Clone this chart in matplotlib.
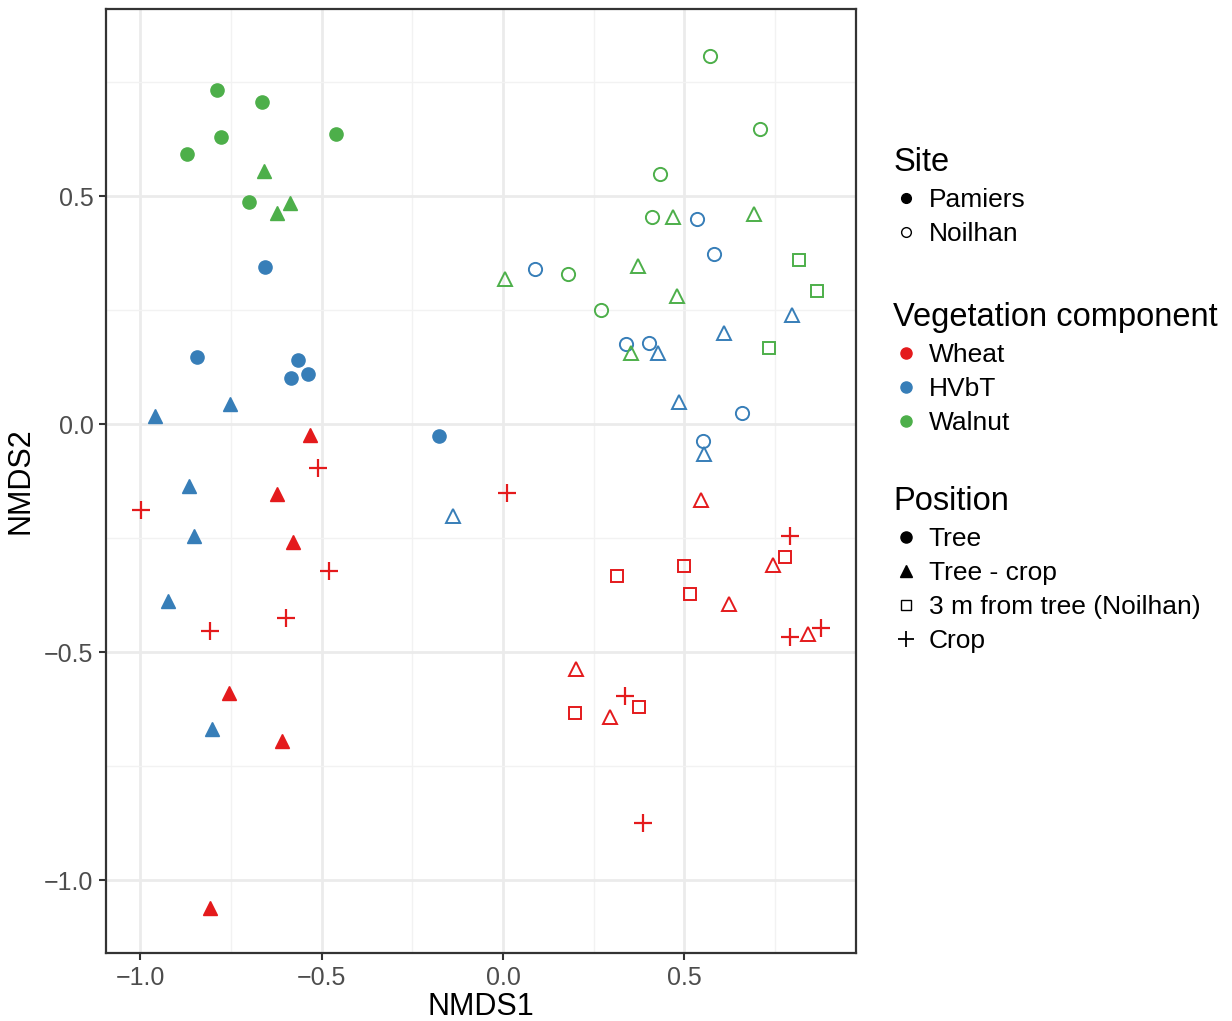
import matplotlib
matplotlib.use("Agg")
from matplotlib import pyplot as plt
from matplotlib.lines import Line2D
import numpy as np

plt.rcParams['font.family'] = ['Liberation Sans', 'DejaVu Sans']

# NMDS scores
nmds1 = [-0.787, -0.663, -0.776, -0.460, -0.872, -0.700,
         -0.658, -0.587, -0.623,
         -0.656, -0.844, -0.566, -0.536, -0.585, -0.176,
         -0.753, -0.960, -0.865, -0.851, -0.922, -0.801,
         -0.531, -0.622, -0.578, -0.756, -0.608, -0.806,
         -0.510, -0.998, -0.480, -0.597, -0.807,
         0.571, 0.709, 0.434, 0.411, 0.178, 0.271,
         0.469, 0.691, 0.373, 0.005, 0.480, 0.353,
         0.816, 0.866, 0.733,
         0.536, 0.581, 0.089, 0.338, 0.403, 0.659, 0.550,
         0.796, 0.610, 0.426, 0.484, 0.554, -0.138,
         0.547, 0.744, 0.622, 0.840, 0.200, 0.296,
         0.778, 0.499, 0.313, 0.516, 0.376, 0.199,
         0.010, 0.791, 0.791, 0.877, 0.335, 0.386]
nmds2 = [0.732, 0.706, 0.629, 0.636, 0.593, 0.487,
         0.554, 0.485, 0.463,
         0.344, 0.148, 0.141, 0.110, 0.102, -0.026,
         0.044, 0.017, -0.136, -0.244, -0.388, -0.669,
         -0.023, -0.154, -0.258, -0.589, -0.695, -1.060,
         -0.096, -0.187, -0.322, -0.424, -0.453,
         0.807, 0.647, 0.548, 0.455, 0.330, 0.251,
         0.454, 0.460, 0.347, 0.318, 0.282, 0.155,
         0.360, 0.291, 0.168,
         0.450, 0.374, 0.341, 0.176, 0.178, 0.024, -0.036,
         0.239, 0.199, 0.157, 0.049, -0.065, -0.201,
         -0.166, -0.309, -0.393, -0.460, -0.536, -0.641,
         -0.291, -0.310, -0.333, -0.373, -0.620, -0.634,
         -0.150, -0.244, -0.467, -0.446, -0.595, -0.874]
site = ['Pamiers'] * 32 + ['Noilhan'] * 46
veg = (['Walnut'] * 9 + ['HVbT'] * 12 + ['Wheat'] * 11 +
       ['Walnut'] * 15 + ['HVbT'] * 13 + ['Wheat'] * 18)
position = (['Tree'] * 6 + ['Tree - crop'] * 3 + ['Tree'] * 6 + ['Tree - crop'] * 6 +
            ['Tree - crop'] * 6 + ['Crop'] * 5 +
            ['Tree'] * 6 + ['Tree - crop'] * 6 + ['3 m from tree (Noilhan)'] * 3 +
            ['Tree'] * 7 + ['Tree - crop'] * 6 +
            ['Tree - crop'] * 6 + ['3 m from tree (Noilhan)'] * 6 + ['Crop'] * 6)

sites = ['Pamiers', 'Noilhan']
vegs = ['Wheat', 'HVbT', 'Walnut']
positions = ['Tree', 'Tree - crop', '3 m from tree (Noilhan)', 'Crop']

colors = {'Wheat': '#E41A1C', 'HVbT': '#377EB8', 'Walnut': '#4DAF4A'}
markers = {'Tree': 'o', 'Tree - crop': '^', '3 m from tree (Noilhan)': 's', 'Crop': '+'}
msize = {'Tree': 9.5, 'Tree - crop': 10, '3 m from tree (Noilhan)': 9, 'Crop': 13}

x = np.array(nmds1)
y = np.array(nmds2)
site = np.array(site)
veg = np.array(veg)
position = np.array(position)

fig = plt.figure(figsize=(12.32, 10.21), dpi=100)
ax = fig.add_axes([106 / 1232, 1 - 953 / 1021, 750 / 1232, 944 / 1021])

for s in sites:
    for v in vegs:
        for p in positions:
            m = (site == s) & (veg == v) & (position == p)
            if not m.any():
                continue
            c = colors[v]
            if p == 'Crop':
                ax.plot(x[m], y[m], ls='none', marker='+', ms=msize[p], mew=1.6, color=c, zorder=3)
            elif s == 'Pamiers':
                ax.plot(x[m], y[m], ls='none', marker=markers[p], ms=msize[p], color=c, mec=c, zorder=3)
            else:
                ax.plot(x[m], y[m], ls='none', marker=markers[p], ms=msize[p], mfc='none',
                        mec=c, mew=1.4, zorder=3)

ax.set_xlim(-1.094, 0.973)
ax.set_ylim(-1.159, 0.910)
ax.set_xticks([-1.0, -0.5, 0.0, 0.5])
ax.set_yticks([-1.0, -0.5, 0.0, 0.5])
ax.set_xticks([-0.75, -0.25, 0.25, 0.75], minor=True)
ax.set_yticks([-0.75, -0.25, 0.25, 0.75], minor=True)
ax.set_xticklabels(['\u22121.0', '\u22120.5', '0.0', '0.5'])
ax.set_yticklabels(['\u22121.0', '\u22120.5', '0.0', '0.5'])
ax.grid(which='major', color='#EBEBEB', lw=2.0, zorder=0)
ax.grid(which='minor', color='#F2F2F2', lw=1.0, zorder=0)
ax.set_axisbelow(True)
ax.tick_params(which='major', length=5, width=1.5, color='#333333', labelsize=18,
               labelcolor='#4D4D4D', pad=4)
ax.tick_params(which='minor', length=0)
for sp in ax.spines.values():
    sp.set_color('#333333')
    sp.set_linewidth(1.6)
ax.set_xlabel('NMDS1', fontsize=22, labelpad=2)
ax.set_ylabel('NMDS2', fontsize=22, labelpad=6)

# legends
leg_kw = dict(frameon=False, fontsize=19, title_fontsize=23.5, alignment='left',
              handletextpad=0.35, labelspacing=0.38, borderpad=0, handlelength=1.0,
              loc='upper left', bbox_transform=fig.transFigure)

h_site = [Line2D([], [], ls='none', marker='o', ms=7, color='black'),
          Line2D([], [], ls='none', marker='o', ms=7, mfc='none', mec='black', mew=1.0)]
leg1 = fig.legend(h_site, sites, title='Site', bbox_to_anchor=(880 / 1232, 1 - 134 / 1021), **leg_kw)

h_veg = [Line2D([], [], ls='none', marker='o', ms=8, color=colors[v]) for v in vegs]
leg2 = fig.legend(h_veg, vegs, title='Vegetation component',
                  bbox_to_anchor=(880 / 1232, 1 - 289 / 1021), **leg_kw)

h_pos = [Line2D([], [], ls='none', marker='o', ms=8, color='black'),
         Line2D([], [], ls='none', marker='^', ms=8, color='black'),
         Line2D([], [], ls='none', marker='s', ms=7, mfc='none', mec='black', mew=1.0),
         Line2D([], [], ls='none', marker='+', ms=11, mew=1.3, color='black')]
leg3 = fig.legend(h_pos, positions, title='Position',
                  bbox_to_anchor=(880 / 1232, 1 - 473 / 1021), **leg_kw)

fig.savefig('out.png', dpi=100)
